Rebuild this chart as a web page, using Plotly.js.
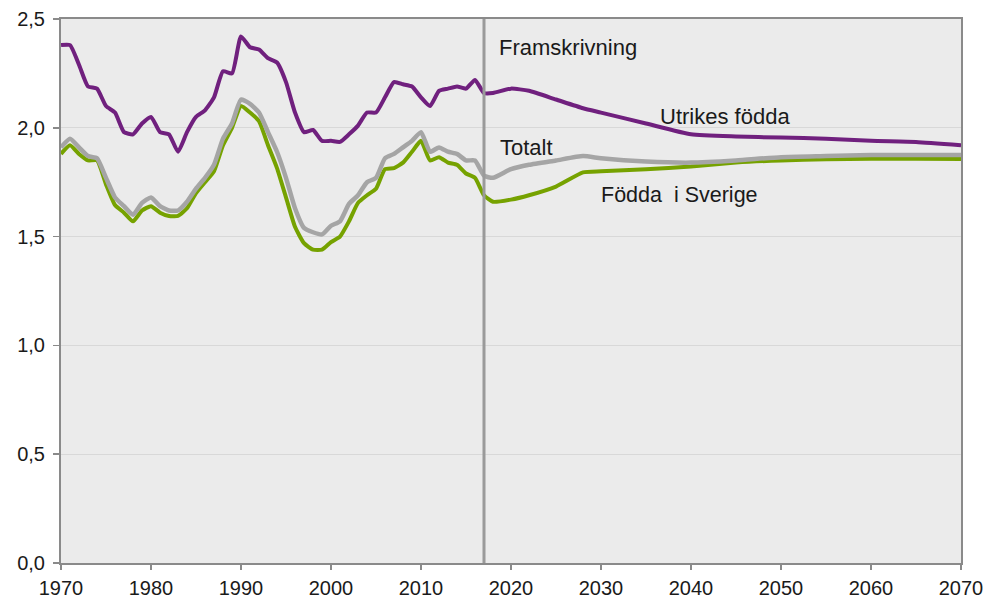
<!DOCTYPE html>
<html>
<head>
<meta charset="utf-8">
<script src="https://cdn.plot.ly/plotly-3.0.1.min.js"></script>
<style>html,body{margin:0;padding:0;background:#fff;}#chart{width:987px;height:598px;}</style>
</head>
<body>
<div id="chart"></div>
<script>
const histYears = [1970,1971,1972,1973,1974,1975,1976,1977,1978,1979,1980,1981,1982,1983,1984,1985,1986,1987,1988,1989,1990,1991,1992,1993,1994,1995,1996,1997,1998,1999,2000,2001,2002,2003,2004,2005,2006,2007,2008,2009,2010,2011,2012,2013,2014,2015,2016,2017];
const projYears = [2018,2020,2022,2025,2028,2030,2035,2040,2045,2050,2055,2060,2065,2070];

const utrikesHist = [2.38,2.38,2.29,2.19,2.18,2.10,2.07,1.98,1.97,2.02,2.05,1.98,1.97,1.89,1.98,2.05,2.08,2.14,2.26,2.25,2.42,2.37,2.36,2.32,2.30,2.21,2.07,1.98,1.99,1.94,1.94,1.935,1.97,2.01,2.07,2.07,2.14,2.21,2.20,2.19,2.14,2.10,2.17,2.18,2.19,2.18,2.22,2.16];
const utrikesProj = [2.16,2.18,2.17,2.13,2.09,2.07,2.02,1.97,1.96,1.955,1.95,1.94,1.935,1.92];

const totaltHist = [1.91,1.95,1.91,1.87,1.86,1.77,1.68,1.64,1.60,1.655,1.68,1.64,1.62,1.62,1.66,1.72,1.77,1.83,1.95,2.02,2.13,2.11,2.07,1.98,1.89,1.77,1.63,1.54,1.52,1.51,1.55,1.57,1.65,1.69,1.75,1.77,1.86,1.88,1.91,1.94,1.98,1.89,1.91,1.89,1.88,1.85,1.85,1.78];
const totaltProj = [1.77,1.81,1.83,1.85,1.87,1.86,1.845,1.84,1.85,1.865,1.87,1.875,1.875,1.875];

const sverigeHist = [1.88,1.92,1.88,1.85,1.85,1.74,1.645,1.61,1.57,1.62,1.64,1.61,1.595,1.595,1.63,1.70,1.75,1.80,1.92,2.00,2.10,2.07,2.03,1.92,1.815,1.68,1.545,1.47,1.44,1.44,1.475,1.50,1.57,1.655,1.69,1.72,1.81,1.815,1.84,1.89,1.94,1.85,1.865,1.84,1.83,1.79,1.77,1.69];
const sverigeProj = [1.66,1.67,1.69,1.73,1.795,1.80,1.81,1.822,1.84,1.85,1.855,1.858,1.858,1.857];

const seriesNames = ["Utrikes födda","Totalt","Födda i Sverige"];
const labelTexts = ["Framskrivning","Utrikes födda","Totalt","Födda  i Sverige"];
const xTicks = [1970,1980,1990,2000,2010,2020,2030,2040,2050,2060,2070];
const yTicks = [0,0.5,1,1.5,2,2.5];
const splitYear = 2017;

function mk(name, hy, hv, py, pv, color, width) {
  return {
    x: hy.concat(py), y: hv.concat(pv), name: name, type: 'scatter', mode: 'lines',
    line: {color: color, width: width, shape: 'spline', smoothing: 0.5},
    hoverinfo: 'x+y'
  };
}

const data = [
  mk(seriesNames[2], histYears, sverigeHist, projYears, sverigeProj, '#76a200', 4),
  mk(seriesNames[1], histYears, totaltHist, projYears, totaltProj, '#a5a5a5', 4.5),
  mk(seriesNames[0], histYears, utrikesHist, projYears, utrikesProj, '#70207e', 4)
];

const fontFam = 'Liberation Sans, Arial, sans-serif';
const tickFont = {family: fontFam, size: 20, color: '#1a1a1a'};
const layout = {
  width: 987, height: 598,
  margin: {l: 61, r: 26, t: 19, b: 35},
  paper_bgcolor: '#ffffff', plot_bgcolor: '#ebebeb',
  showlegend: false,
  separators: ', ',
  font: {family: fontFam, size: 20, color: '#1a1a1a'},
  xaxis: {
    range: [1970, 2070], tickvals: xTicks, ticks: 'outside', ticklen: 5, tickwidth: 1.5, tickcolor: '#8a8a8a',
    showline: true, linecolor: '#8a8a8a', linewidth: 2, mirror: true, showgrid: false, zeroline: false,
    tickfont: tickFont, ticklabelstandoff: 1
  },
  yaxis: {
    range: [0, 2.5], tickvals: yTicks, tickformat: '.1f', ticks: 'outside', ticklen: 6, tickwidth: 1.5, tickcolor: '#8a8a8a',
    showline: true, linecolor: '#8a8a8a', linewidth: 2, mirror: true, showgrid: true, gridcolor: '#d8d8d8', gridwidth: 1,
    zeroline: false, tickfont: tickFont, ticklabelstandoff: 4
  },
  shapes: [{type: 'line', xref: 'x', yref: 'paper', x0: splitYear, x1: splitYear, y0: 0, y1: 1,
            line: {color: '#9a9a9a', width: 3}, layer: 'above'}],
  annotations: [
    {text: labelTexts[0], x: 2018.4, y: 2.37, xref: 'x', yref: 'y', xanchor: 'left', yanchor: 'middle', showarrow: false, font: {size: 22}},
    {text: labelTexts[1], x: 2036.3, y: 2.05, xref: 'x', yref: 'y', xanchor: 'left', yanchor: 'middle', showarrow: false, font: {size: 22}},
    {text: labelTexts[2], x: 2018.6, y: 1.91, xref: 'x', yref: 'y', xanchor: 'left', yanchor: 'middle', showarrow: false, font: {size: 22}},
    {text: labelTexts[3], x: 2029.8, y: 1.69, xref: 'x', yref: 'y', xanchor: 'left', yanchor: 'middle', showarrow: false, font: {size: 21.5}}
  ]
};

Plotly.newPlot('chart', data, layout, {displayModeBar: false, staticPlot: true});
</script>
</body>
</html>
